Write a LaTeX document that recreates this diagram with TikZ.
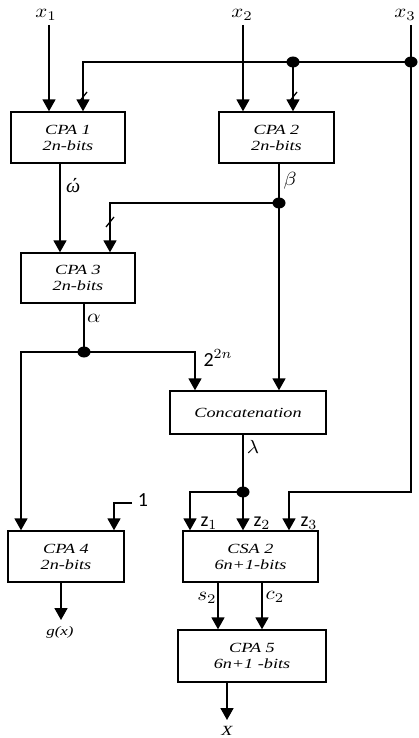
\documentclass[tikz,border=0pt]{standalone}
\usepackage{graphicx}
\usepackage{fontspec}
\setmainfont{Liberation Serif}
\newfontfamily\boxfont[FakeStretch=1.3]{Liberation Serif}
\newfontfamily\calfont{Carlito}
\newfontfamily\grkfont{Liberation Serif}
\usetikzlibrary{arrows.meta,shapes.geometric}
\newcommand{\wm}[1]{\scalebox{2.1}[1.9]{$#1$}}
\newcommand{\wc}[1]{\scalebox{2}{#1}}
\tikzset{
 blk/.style={draw, line width=1.4pt, minimum width=#1, minimum height=51pt, inner sep=0pt, align=center,
   font=\boxfont\itshape\fontsize{14}{16}\selectfont},
 wire/.style={line width=1.8pt},
 arr/.style={wire, -{Triangle[width=13pt,length=12pt]}},
 dot/.style={ellipse, fill, minimum width=13pt, minimum height=11pt, inner sep=0pt},
 lab/.style={inner sep=0pt},
 slash/.style={line width=1.3pt},
}
\begin{document}
\begin{tikzpicture}[x=1pt,y=-1pt]
\useasboundingbox (0,0) rectangle (418,738);
% boxes
\node[blk=114pt] (cpa1) at (68,137.5) {CPA 1\\2n-bits};
\node[blk=115pt] (cpa2) at (276.5,137.5) {CPA 2\\2n-bits};
\node[blk=114pt, minimum height=50pt] (cpa3) at (78,278) {CPA 3\\2n-bits};
\node[blk=156pt, minimum height=43pt] (cat) at (248,412.5) {Concatenation};
\node[blk=116pt] (cpa4) at (66,556.5) {CPA 4\\2n-bits};
\node[blk=135pt] (csa) at (250.5,556.5) {CSA 2\\6n+1-bits};
\node[blk=148pt, minimum height=52pt] (cpa5) at (252,656) {CPA 5\\6n+1 -bits};
% input labels
\node[lab] (lx1) at (46,15) {\wm{x_1}};
\node[lab] (lx2) at (242,15) {\wm{x_2}};
\node[lab] (lx3) at (405,15) {\wm{x_3}};
% coordinates
\coordinate (in1) at (49,25);
\coordinate (in2) at (243,25);
\coordinate (in3) at (411,25);
\coordinate (t3) at (411,492);
\coordinate (t3b) at (289,492);
\coordinate (b1) at (83,62);
\coordinate (xa) at (60,0);
\coordinate (xb) at (279,0);
\coordinate (b3) at (110,203);
\coordinate (xc) at (84,0);
\coordinate (b4l) at (21,352);
\coordinate (b4r) at (195,352);
\coordinate (xd) at (243,0);
\coordinate (b5) at (190,492);
\coordinate (one) at (132,503);
\coordinate (onec) at (114,503);
\coordinate (xe) at (61,0);
\coordinate (xs) at (218,0);
\coordinate (xcc) at (262,0);
\coordinate (xf) at (227,0);
\coordinate (gout) at (61,620);
\coordinate (xout) at (227,720);
% dots
\node[dot] (d1) at (411,62) {};
\node[dot] (d2) at (293,62) {};
\node[dot] (d3) at (279,203) {};
\node[dot] (d4) at (84,352) {};
\node[dot] (d5) at (243,492) {};
% wires
\draw[arr] (in1) -- (in1 |- cpa1.north);
\draw[arr] (in2) -- (in2 |- cpa2.north);
\draw[arr] (in3) -- (t3) -- (t3b) -- (t3b |- csa.north);
\draw[arr] (d1.center) -- (b1) -- (b1 |- cpa1.north);
\draw[arr] (d2.center) -- (d2 |- cpa2.north);
\draw[slash] (79,102) -- (87,92);
\draw[slash] (289,102) -- (297,92);
\draw[arr] (xa |- cpa1.south) -- (xa |- cpa3.north);
\draw[arr] (xb |- cpa2.south) -- (xb |- cat.north);
\draw[arr] (d3.center) -- (b3) -- (b3 |- cpa3.north);
\draw[slash] (106,227) -- (114,217);
\draw[wire] (xc |- cpa3.south) -- (d4.center);
\draw[arr] (d4.center) -- (b4l) -- (b4l |- cpa4.north);
\draw[arr] (d4.center) -- (b4r) -- (b4r |- cat.north);
\draw[arr] (xd |- cat.south) -- (xd |- csa.north);
\draw[arr] (d5.center) -- (b5) -- (b5 |- csa.north);
\draw[arr] (one) -- (onec) -- (onec |- cpa4.north);
\draw[arr] (xe |- cpa4.south) -- (gout);
\draw[arr] (xs |- csa.south) -- (xs |- cpa5.north);
\draw[arr] (xcc |- csa.south) -- (xcc |- cpa5.north);
\draw[arr] (xf |- cpa5.south) -- (xout);
% labels
\node[lab, font=\grkfont\itshape\fontsize{20}{22}\selectfont] (lw) at (73,186) {ώ};
\node[lab] (lb) at (290,181) {\wm{\beta}};
\node[lab] (la) at (94,318) {\wm{\alpha}};
\node[lab] (l22) at (218,358) {\wc{{\calfont 2}$^{2n}$}};
\node[lab] (ll) at (253,447) {\wm{\lambda}};
\node[lab] (l1) at (143,500) {\wc{\calfont 1}};
\node[lab] (z1) at (209,523) {\wc{{\calfont z}$_1$}};
\node[lab] (z2) at (262,523) {\wc{{\calfont z}$_2$}};
\node[lab] (z3) at (309,523) {\wc{{\calfont z}$_3$}};
\node[lab] (ls) at (207,598) {\wm{s_2}};
\node[lab] (lc) at (275,597) {\wm{c_2}};
\node[lab, font=\boxfont\itshape\fontsize{13}{15}\selectfont] (lg) at (60,632) {g(x)};
\node[lab, font=\boxfont\itshape\fontsize{14}{16}\selectfont] (lX) at (227,731) {X};
\end{tikzpicture}
\end{document}
